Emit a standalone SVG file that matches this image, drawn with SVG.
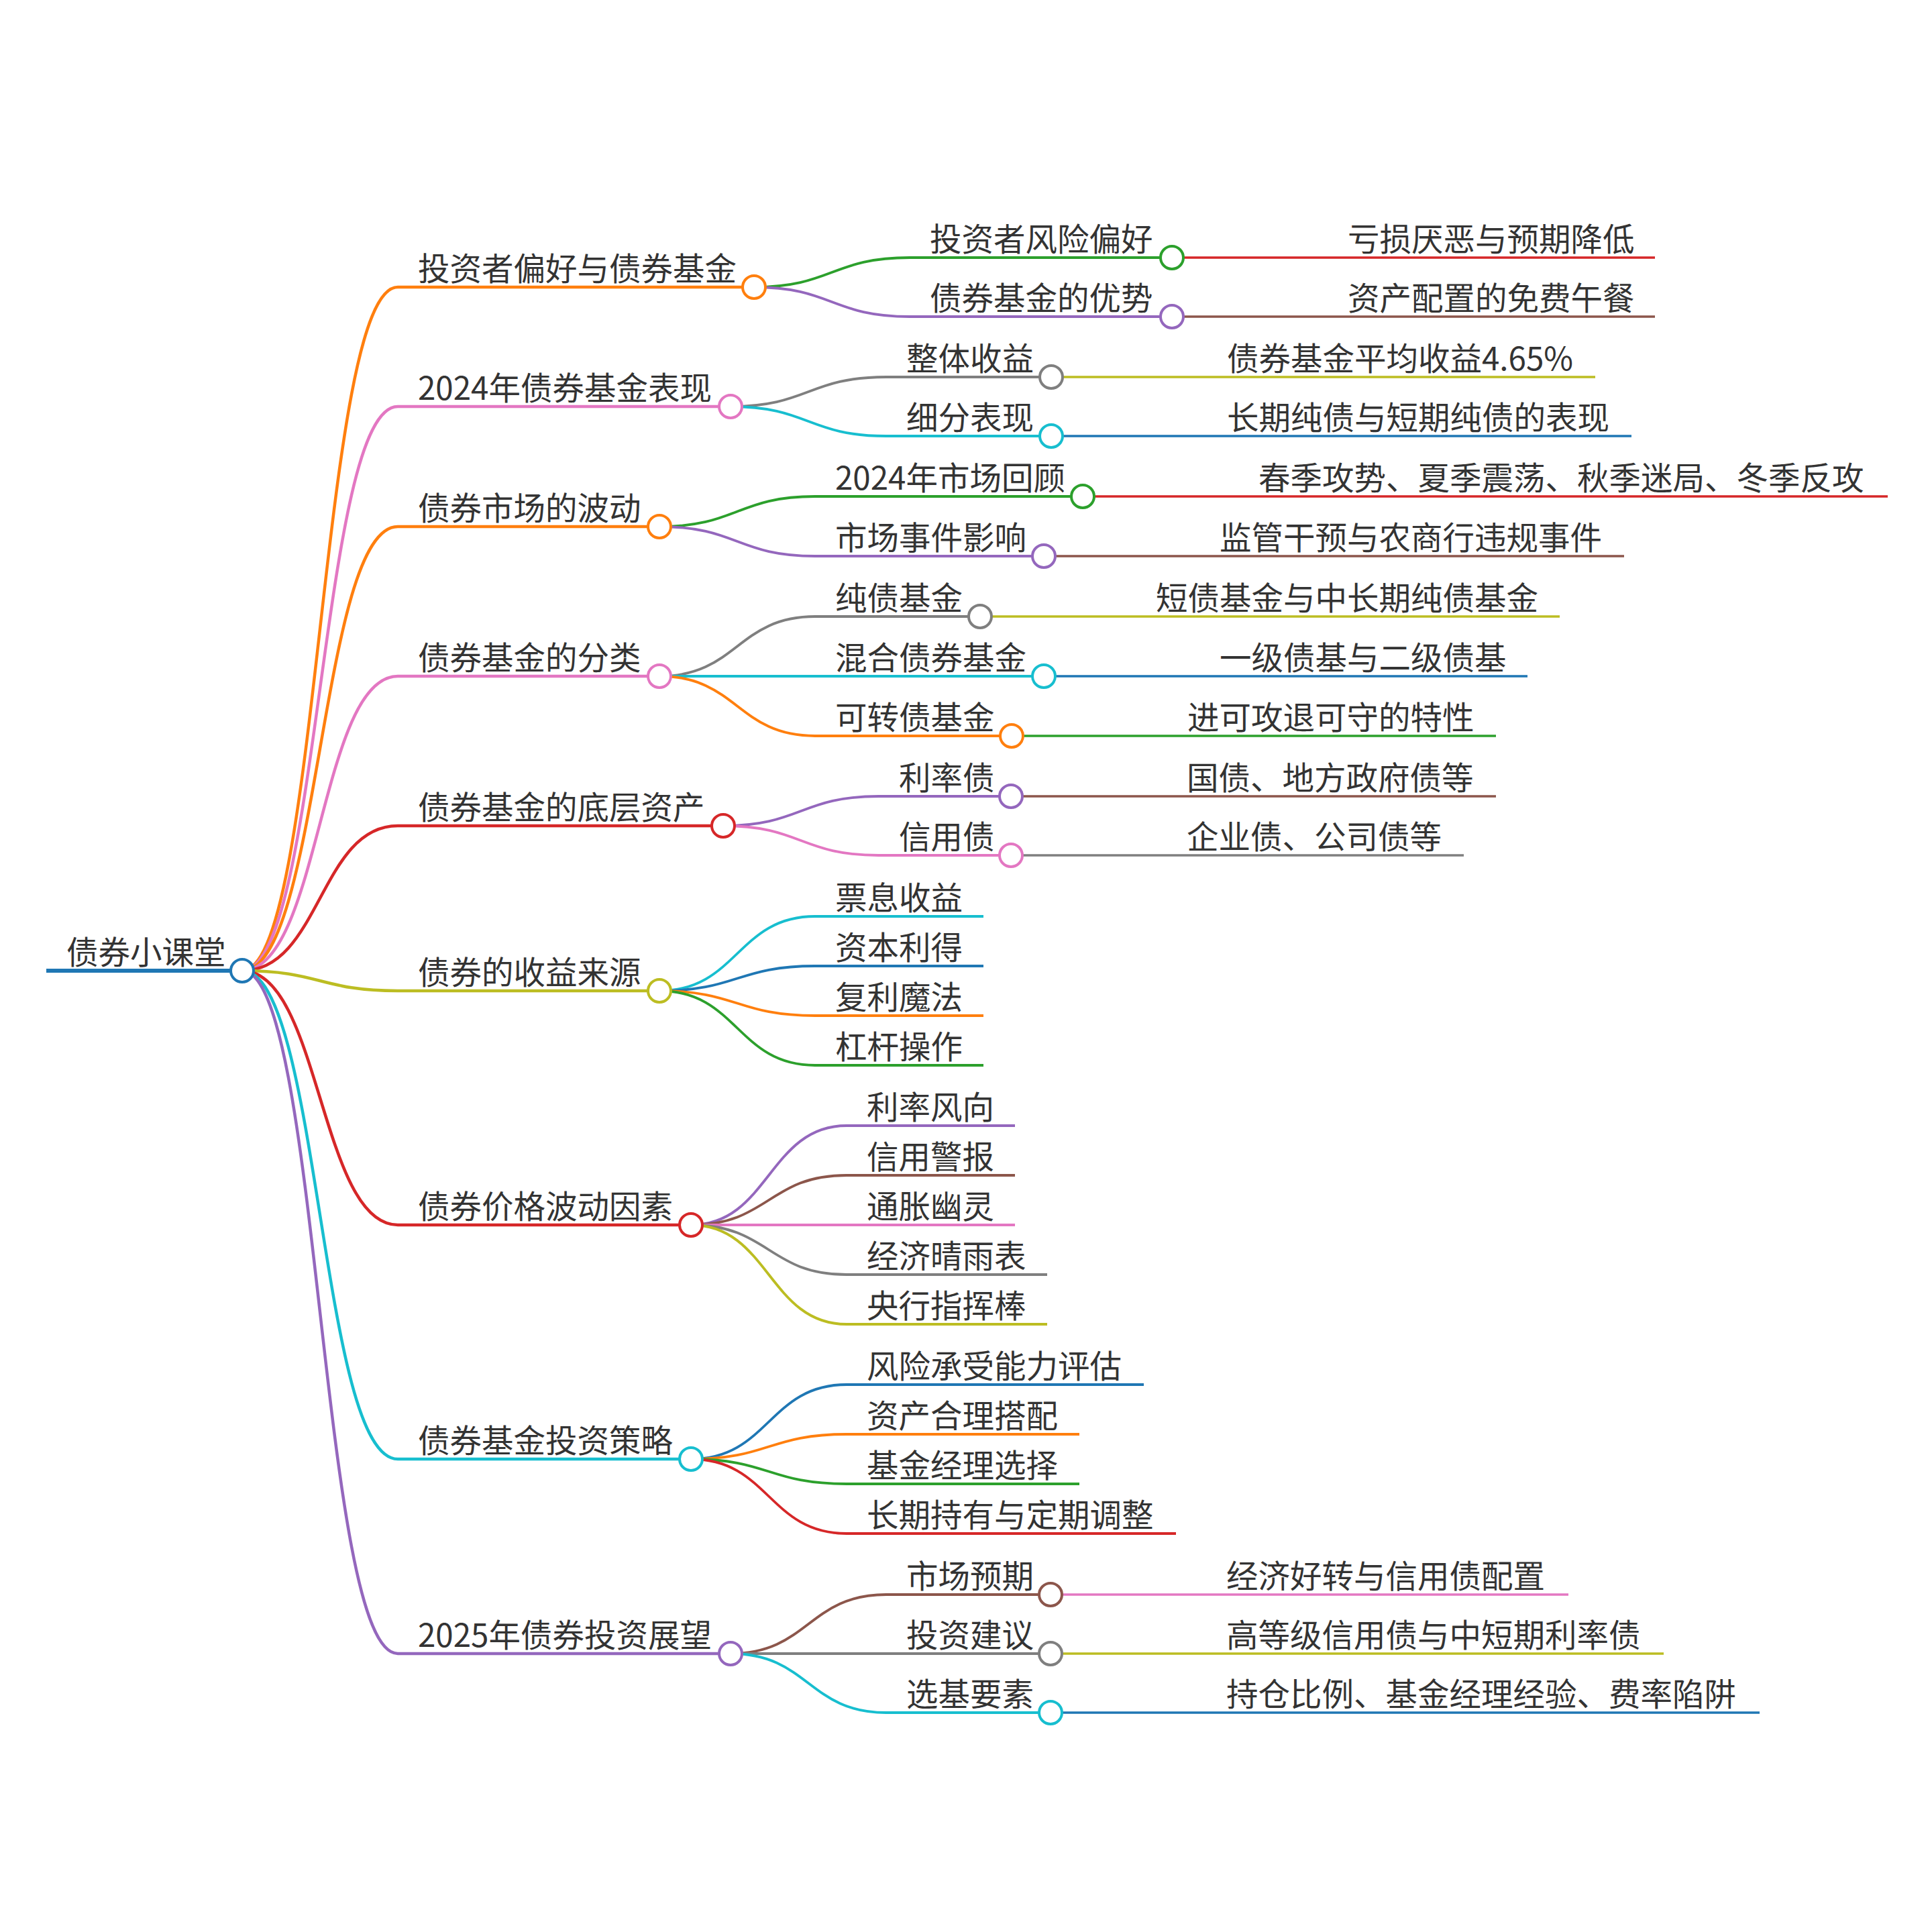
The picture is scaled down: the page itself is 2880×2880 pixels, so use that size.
<svg xmlns="http://www.w3.org/2000/svg" width="2880" height="2880" viewBox="0 0 2880 2880">
<style>
text{font-family:"Noto Sans CJK SC","Noto Sans","DejaVu Sans",sans-serif;font-size:47.5px;fill:#333}
path,line{fill:none;stroke-linecap:butt}
circle{fill:#fff}
.d0{stroke-width:6}
.d1{stroke-width:4.5}
.d2{stroke-width:3.8}
.d3{stroke-width:3.3}
.k{stroke-width:4}
.blue{stroke:#1f77b4}.orange{stroke:#ff7f0e}.green{stroke:#2ca02c}.red{stroke:#d62728}.purple{stroke:#9467bd}
.brown{stroke:#8c564b}.pink{stroke:#e377c2}.gray{stroke:#7f7f7f}.olive{stroke:#bcbd22}.cyan{stroke:#17becf}
</style>
<rect width="2880" height="2880" fill="#fff"/>
<g id="connectors">
<path class="d1 orange" d="M361,1447 C477,1447 477,428 593,428"/>
<path class="d1 pink" d="M361,1447 C477,1447 477,606 593,606"/>
<path class="d1 orange" d="M361,1447 C477,1447 477,785 593,785"/>
<path class="d1 pink" d="M361,1447 C477,1447 477,1008 593,1008"/>
<path class="d1 red" d="M361,1447 C477,1447 477,1231 593,1231"/>
<path class="d1 olive" d="M361,1447 C477,1447 477,1477 593,1477"/>
<path class="d1 red" d="M361,1447 C477,1447 477,1826 593,1826"/>
<path class="d1 cyan" d="M361,1447 C477,1447 477,2175 593,2175"/>
<path class="d1 purple" d="M361,1447 C477,1447 477,2465 593,2465"/>
<path class="d2 green" d="M1124,428 C1240,428 1240,384 1356,384"/>
<path class="d2 purple" d="M1124,428 C1240,428 1240,472 1356,472"/>
<path class="d3 red" d="M1747,384 H1979"/>
<path class="d3 brown" d="M1747,472 H1979"/>
<path class="d2 gray" d="M1089,606 C1205,606 1205,562 1321,562"/>
<path class="d2 cyan" d="M1089,606 C1205,606 1205,650 1321,650"/>
<path class="d3 olive" d="M1567,562 H1799"/>
<path class="d3 blue" d="M1567,650 H1799"/>
<path class="d2 green" d="M983,785 C1099,785 1099,740 1215,740"/>
<path class="d2 purple" d="M983,785 C1099,785 1099,829 1215,829"/>
<path class="d3 red" d="M1614,740 H1846"/>
<path class="d3 brown" d="M1556,829 H1788"/>
<path class="d2 gray" d="M983,1008 C1099,1008 1099,919 1215,919"/>
<path class="d2 cyan" d="M983,1008 H1215"/>
<path class="d2 orange" d="M983,1008 C1099,1008 1099,1097 1215,1097"/>
<path class="d3 olive" d="M1461,919 H1693"/>
<path class="d3 blue" d="M1556,1008 H1788"/>
<path class="d3 green" d="M1508,1097 H1740"/>
<path class="d2 purple" d="M1078,1231 C1194,1231 1194,1187 1310,1187"/>
<path class="d2 pink" d="M1078,1231 C1194,1231 1194,1275 1310,1275"/>
<path class="d3 brown" d="M1507,1187 H1739"/>
<path class="d3 gray" d="M1507,1275 H1739"/>
<path class="d2 cyan" d="M983,1477 C1099,1477 1099,1366 1215,1366"/>
<path class="d2 blue" d="M983,1477 C1099,1477 1099,1440 1215,1440"/>
<path class="d2 orange" d="M983,1477 C1099,1477 1099,1514 1215,1514"/>
<path class="d2 green" d="M983,1477 C1099,1477 1099,1588 1215,1588"/>
<path class="d2 purple" d="M1030,1826 C1146,1826 1146,1678 1262,1678"/>
<path class="d2 brown" d="M1030,1826 C1146,1826 1146,1752 1262,1752"/>
<path class="d2 pink" d="M1030,1826 H1262"/>
<path class="d2 gray" d="M1030,1826 C1146,1826 1146,1900 1262,1900"/>
<path class="d2 olive" d="M1030,1826 C1146,1826 1146,1974 1262,1974"/>
<path class="d2 blue" d="M1030,2175 C1146,2175 1146,2064 1262,2064"/>
<path class="d2 orange" d="M1030,2175 C1146,2175 1146,2138 1262,2138"/>
<path class="d2 green" d="M1030,2175 C1146,2175 1146,2212 1262,2212"/>
<path class="d2 red" d="M1030,2175 C1146,2175 1146,2286 1262,2286"/>
<path class="d2 brown" d="M1089,2465 C1205,2465 1205,2377 1321,2377"/>
<path class="d2 gray" d="M1089,2465 H1321"/>
<path class="d2 cyan" d="M1089,2465 C1205,2465 1205,2553 1321,2553"/>
<path class="d3 pink" d="M1566,2377 H1798"/>
<path class="d3 olive" d="M1566,2465 H1798"/>
<path class="d3 blue" d="M1566,2553 H1798"/>
</g>

<g id="n-root"><path class="d0 blue" d="M69,1447 H361"/><text x="99" y="1437">债券小课堂</text><circle class="k blue" cx="361" cy="1447" r="17"/></g>

<g id="n1"><path class="d1 orange" d="M593,428 H1124"/><text x="623" y="418">投资者偏好与债券基金</text><circle class="k orange" cx="1124" cy="428" r="17"/></g>
<g id="n1a"><path class="d2 green" d="M1356,384 H1747"/><text x="1386" y="374">投资者风险偏好</text><circle class="k green" cx="1747" cy="384" r="17"/></g>
<g id="n1a1"><path class="d3 red" d="M1979,384 H2467"/><text x="2009" y="374">亏损厌恶与预期降低</text></g>
<g id="n1b"><path class="d2 purple" d="M1356,472 H1747"/><text x="1386" y="462">债券基金的优势</text><circle class="k purple" cx="1747" cy="472" r="17"/></g>
<g id="n1b1"><path class="d3 brown" d="M1979,472 H2467"/><text x="2009" y="462">资产配置的免费午餐</text></g>

<g id="n2"><path class="d1 pink" d="M593,606 H1089"/><text x="623" y="596">2024年债券基金表现</text><circle class="k pink" cx="1089" cy="606" r="17"/></g>
<g id="n2a"><path class="d2 gray" d="M1321,562 H1567"/><text x="1351" y="552">整体收益</text><circle class="k gray" cx="1567" cy="562" r="17"/></g>
<g id="n2a1"><path class="d3 olive" d="M1799,562 H2378"/><text x="1829" y="552">债券基金平均收益4.65%</text></g>
<g id="n2b"><path class="d2 cyan" d="M1321,650 H1567"/><text x="1351" y="640">细分表现</text><circle class="k cyan" cx="1567" cy="650" r="17"/></g>
<g id="n2b1"><path class="d3 blue" d="M1799,650 H2432"/><text x="1829" y="640">长期纯债与短期纯债的表现</text></g>

<g id="n3"><path class="d1 orange" d="M593,785 H983"/><text x="623" y="775">债券市场的波动</text><circle class="k orange" cx="983" cy="785" r="17"/></g>
<g id="n3a"><path class="d2 green" d="M1215,740 H1614"/><text x="1245" y="730">2024年市场回顾</text><circle class="k green" cx="1614" cy="740" r="17"/></g>
<g id="n3a1"><path class="d3 red" d="M1846,740 H2814"/><text x="1876" y="730">春季攻势、夏季震荡、秋季迷局、冬季反攻</text></g>
<g id="n3b"><path class="d2 purple" d="M1215,829 H1556"/><text x="1245" y="819">市场事件影响</text><circle class="k purple" cx="1556" cy="829" r="17"/></g>
<g id="n3b1"><path class="d3 brown" d="M1788,829 H2421"/><text x="1818" y="819">监管干预与农商行违规事件</text></g>

<g id="n4"><path class="d1 pink" d="M593,1008 H983"/><text x="623" y="998">债券基金的分类</text><circle class="k pink" cx="983" cy="1008" r="17"/></g>
<g id="n4a"><path class="d2 gray" d="M1215,919 H1461"/><text x="1245" y="909">纯债基金</text><circle class="k gray" cx="1461" cy="919" r="17"/></g>
<g id="n4a1"><path class="d3 olive" d="M1693,919 H2325"/><text x="1723" y="909">短债基金与中长期纯债基金</text></g>
<g id="n4b"><path class="d2 cyan" d="M1215,1008 H1556"/><text x="1245" y="998">混合债券基金</text><circle class="k cyan" cx="1556" cy="1008" r="17"/></g>
<g id="n4b1"><path class="d3 blue" d="M1788,1008 H2277"/><text x="1818" y="998">一级债基与二级债基</text></g>
<g id="n4c"><path class="d2 orange" d="M1215,1097 H1508"/><text x="1245" y="1087">可转债基金</text><circle class="k orange" cx="1508" cy="1097" r="17"/></g>
<g id="n4c1"><path class="d3 green" d="M1740,1097 H2230"/><text x="1770" y="1087">进可攻退可守的特性</text></g>

<g id="n5"><path class="d1 red" d="M593,1231 H1078"/><text x="623" y="1221">债券基金的底层资产</text><circle class="k red" cx="1078" cy="1231" r="17"/></g>
<g id="n5a"><path class="d2 purple" d="M1310,1187 H1507"/><text x="1340" y="1177">利率债</text><circle class="k purple" cx="1507" cy="1187" r="17"/></g>
<g id="n5a1"><path class="d3 brown" d="M1739,1187 H2230"/><text x="1769" y="1177">国债、地方政府债等</text></g>
<g id="n5b"><path class="d2 pink" d="M1310,1275 H1507"/><text x="1340" y="1265">信用债</text><circle class="k pink" cx="1507" cy="1275" r="17"/></g>
<g id="n5b1"><path class="d3 gray" d="M1739,1275 H2182"/><text x="1769" y="1265">企业债、公司债等</text></g>

<g id="n6"><path class="d1 olive" d="M593,1477 H983"/><text x="623" y="1467">债券的收益来源</text><circle class="k olive" cx="983" cy="1477" r="17"/></g>
<g id="n6a"><path class="d2 cyan" d="M1215,1366 H1466"/><text x="1245" y="1356">票息收益</text></g>
<g id="n6b"><path class="d2 blue" d="M1215,1440 H1466"/><text x="1245" y="1430">资本利得</text></g>
<g id="n6c"><path class="d2 orange" d="M1215,1514 H1466"/><text x="1245" y="1504">复利魔法</text></g>
<g id="n6d"><path class="d2 green" d="M1215,1588 H1466"/><text x="1245" y="1578">杠杆操作</text></g>

<g id="n7"><path class="d1 red" d="M593,1826 H1030"/><text x="623" y="1816">债券价格波动因素</text><circle class="k red" cx="1030" cy="1826" r="17"/></g>
<g id="n7a"><path class="d2 purple" d="M1262,1678 H1513"/><text x="1292" y="1668">利率风向</text></g>
<g id="n7b"><path class="d2 brown" d="M1262,1752 H1513"/><text x="1292" y="1742">信用警报</text></g>
<g id="n7c"><path class="d2 pink" d="M1262,1826 H1513"/><text x="1292" y="1816">通胀幽灵</text></g>
<g id="n7d"><path class="d2 gray" d="M1262,1900 H1561"/><text x="1292" y="1890">经济晴雨表</text></g>
<g id="n7e"><path class="d2 olive" d="M1262,1974 H1561"/><text x="1292" y="1964">央行指挥棒</text></g>

<g id="n8"><path class="d1 cyan" d="M593,2175 H1030"/><text x="623" y="2165">债券基金投资策略</text><circle class="k cyan" cx="1030" cy="2175" r="17"/></g>
<g id="n8a"><path class="d2 blue" d="M1262,2064 H1705"/><text x="1292" y="2054">风险承受能力评估</text></g>
<g id="n8b"><path class="d2 orange" d="M1262,2138 H1609"/><text x="1292" y="2128">资产合理搭配</text></g>
<g id="n8c"><path class="d2 green" d="M1262,2212 H1609"/><text x="1292" y="2202">基金经理选择</text></g>
<g id="n8d"><path class="d2 red" d="M1262,2286 H1753"/><text x="1292" y="2276">长期持有与定期调整</text></g>

<g id="n9"><path class="d1 purple" d="M593,2465 H1089"/><text x="623" y="2455">2025年债券投资展望</text><circle class="k purple" cx="1089" cy="2465" r="17"/></g>
<g id="n9a"><path class="d2 brown" d="M1321,2377 H1566"/><text x="1351" y="2367">市场预期</text><circle class="k brown" cx="1566" cy="2377" r="17"/></g>
<g id="n9a1"><path class="d3 pink" d="M1798,2377 H2338"/><text x="1828" y="2367">经济好转与信用债配置</text></g>
<g id="n9b"><path class="d2 gray" d="M1321,2465 H1566"/><text x="1351" y="2455">投资建议</text><circle class="k gray" cx="1566" cy="2465" r="17"/></g>
<g id="n9b1"><path class="d3 olive" d="M1798,2465 H2480"/><text x="1828" y="2455">高等级信用债与中短期利率债</text></g>
<g id="n9c"><path class="d2 cyan" d="M1321,2553 H1566"/><text x="1351" y="2543">选基要素</text><circle class="k cyan" cx="1566" cy="2553" r="17"/></g>
<g id="n9c1"><path class="d3 blue" d="M1798,2553 H2623"/><text x="1828" y="2543">持仓比例、基金经理经验、费率陷阱</text></g>
</svg>
